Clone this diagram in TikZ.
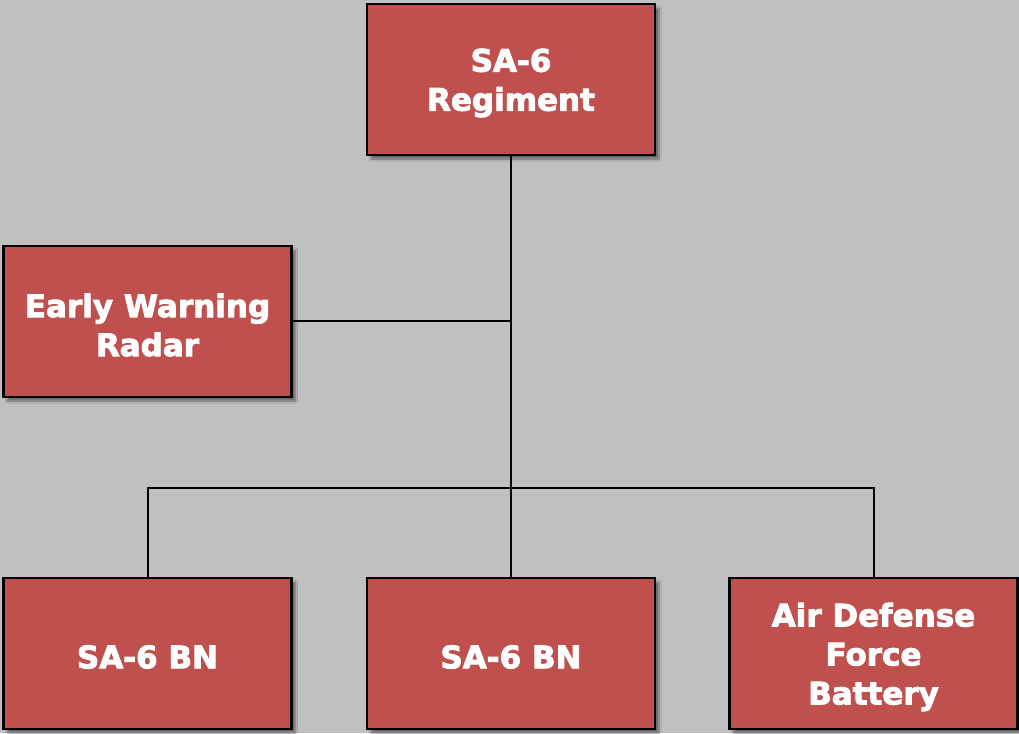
\documentclass[tikz,border=0pt]{standalone}
\usepackage{fontspec}
\setmainfont{DejaVu Sans}
\newfontfamily\boxfont{DejaVu Sans Bold}
\newcommand\heavytext[1]{\special{pdf:literal 2 Tr 1 1 1 RG 0.9 w}#1\special{pdf:literal 0 Tr}}
\usetikzlibrary{shadows.blur}
\definecolor{bg}{HTML}{C0C0C0}
\definecolor{boxred}{HTML}{C0504D}
\begin{document}
\begin{tikzpicture}[x=1pt,y=-1pt,
  unit/.style={draw=black,line width=2.5pt,fill=boxred,minimum width=288pt,minimum height=151pt,
    inner sep=0pt,
    blur shadow={shadow xshift=4pt,shadow yshift=-4pt,shadow blur steps=6,shadow opacity=45}},
  label/.style={align=center,text=white,font=\boxfont\fontsize{31}{39}\selectfont,yshift=-3.5pt},
  link/.style={draw=black,line width=2pt}]
\fill[bg] (0,0) rectangle (1019,733);
\useasboundingbox (0,0) rectangle (1019,733);
\node[unit] (reg) at (511,79.5) {};
\node[unit] (ew) at (147.5,321.5) {};
\node[unit] (bn1) at (147.5,653.5) {};
\node[unit] (bn2) at (511,653.5) {};
\node[unit] (adf) at (873.5,653.5) {};
\coordinate (j1) at (511,321);
\coordinate (l1) at (147.5,488);
\coordinate (r1) at (873.5,488);
\draw[link] (reg.south) -- (bn2.north);
\draw[link] (ew.east |- j1) -- (j1);
\draw[link] (bn1.north) -- (l1) -- (r1) -- (adf.north);
\node[label] (treg) at (reg.center) {\heavytext{SA-6}\\\heavytext{Regiment}};
\node[label] (tew) at (ew.center) {\heavytext{Early Warning}\\\heavytext{Radar}};
\node[label] (tbn1) at (bn1.center) {\heavytext{SA-6 BN}};
\node[label] (tbn2) at (bn2.center) {\heavytext{SA-6 BN}};
\node[label] (tadf) at (adf.center) {\heavytext{Air Defense}\\\heavytext{Force}\\\heavytext{Battery}};
\end{tikzpicture}
\end{document}
